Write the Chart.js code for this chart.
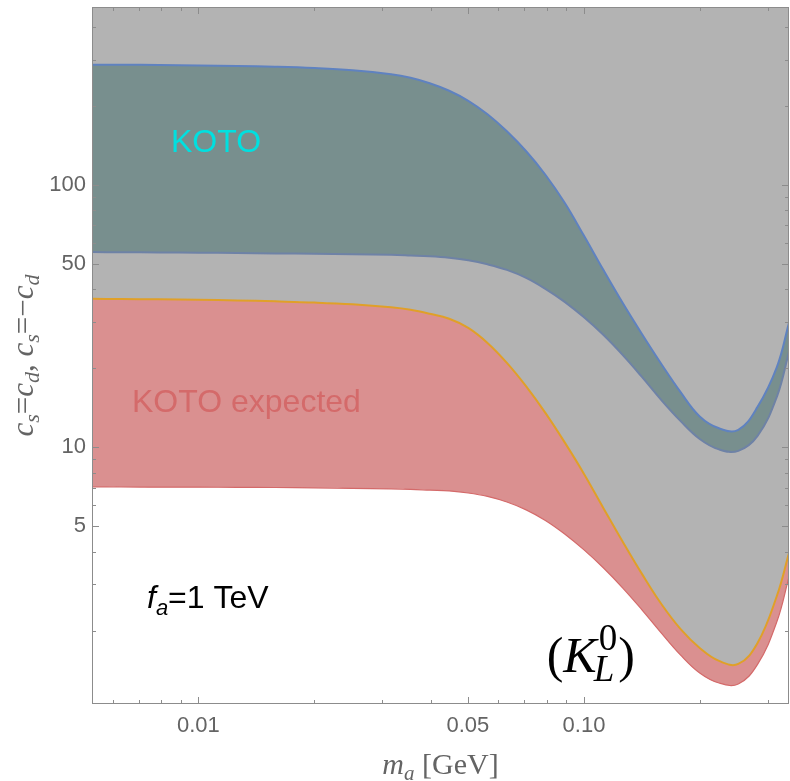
<!DOCTYPE html>
<html>
<head>
<meta charset="utf-8">
<script src="https://cdn.jsdelivr.net/npm/chart.js@4.4.1/dist/chart.umd.min.js"></script>
<style>
  html, body { margin: 0; padding: 0; background: #fff; }
  #wrap { width: 790px; height: 781px; position: relative; }
</style>
</head>
<body>
<div id="wrap"><canvas id="kotoChart"></canvas></div>
<script>
// axion mass grid [GeV]
const massGeV = [0.0053, 0.0063, 0.0079, 0.01, 0.0126, 0.0158, 0.02, 0.0251, 0.0316, 0.0355,
    0.0398, 0.0447, 0.0501, 0.0562, 0.0631, 0.0708, 0.0794, 0.0891, 0.1, 0.1122,
    0.1259, 0.1413, 0.1585, 0.1778, 0.1995, 0.2239, 0.2512, 0.2818, 0.3162, 0.34];

// KOTO band
const kotoUpper = [286.8, 286.8, 286.1, 284.8, 283.5, 281.8, 278.6, 273.3, 263.9, 255.8,
    243.8, 228.3, 209.0, 185.7, 159.9, 134.2, 109.2, 85.4, 63.9, 47.4,
    35.5, 27.0, 20.8, 16.25, 13.1, 11.8, 11.64, 14.24, 20.2, 29.8];
const kotoLower = [55.4, 55.34, 55.25, 55.1, 54.95, 54.76, 54.56, 54.32, 54.08, 53.76,
    53.38, 52.68, 51.54, 49.76, 47.41, 44.19, 40.13, 35.8, 31.26, 26.8,
    22.48, 18.53, 15.15, 12.6, 10.75, 9.81, 9.68, 11.04, 15.55, 23.08];

// KOTO expected band
const expectedUpper = [36.77, 36.7, 36.61, 36.45, 36.26, 35.96, 35.59, 35.03, 34.12, 33.39,
    32.24, 30.85, 28.49, 24.97, 20.96, 17.05, 13.51, 10.43, 7.91, 5.87,
    4.37, 3.29, 2.53, 2.03, 1.717, 1.532, 1.492, 1.794, 2.71, 3.95];
const expectedLower = [7.06, 7.05, 7.04, 7.04, 7.03, 7.02, 7.0, 6.97, 6.94, 6.91,
    6.86, 6.81, 6.69, 6.49, 6.18, 5.77, 5.26, 4.67, 4.06, 3.47,
    2.91, 2.4, 1.96, 1.615, 1.378, 1.262, 1.252, 1.486, 2.16, 3.2];

// ticks
const xMajorTicks = [0.01, 0.05, 0.1];
const xTickLabels = ['0.01', '0.05', '0.10'];
const xMinorTicks = [0.006, 0.007, 0.008, 0.009, 0.02, 0.03, 0.04, 0.06, 0.07, 0.08, 0.09, 0.2, 0.3];
const yMajorTicks = [5, 10, 50, 100];
const yTickLabels = ['5', '10', '50', '100'];
const yMinorTicks = [2, 3, 4, 6, 7, 8, 9, 20, 30, 40, 60, 70, 80, 90, 200, 300, 400];

const toPoints = arr => massGeV.map((m, i) => ({ x: m, y: arr[i] }));

const SANS = '"Liberation Sans", Arial, sans-serif';
const SERIF = '"Liberation Serif", "Times New Roman", serif';

function drawRuns(ctx, runs, x, y) {
    for (const r of runs) {
        ctx.font = r.font;
        ctx.fillText(r.text, x, y + (r.dy || 0));
        x += ctx.measureText(r.text).width;
    }
    return x;
}

function runsWidth(ctx, runs) {
    let w = 0;
    for (const r of runs) {
        ctx.font = r.font;
        w += ctx.measureText(r.text).width;
    }
    return w;
}

// frame with inward ticks on all four sides
const frameTicks = {
    id: 'frameTicks',
    afterDatasetsDraw(chart) {
        const { ctx, chartArea: a, scales: { x, y } } = chart;
        ctx.save();
        ctx.strokeStyle = '#8c8c8c';
        ctx.lineWidth = 1;
        ctx.strokeRect(a.left + 0.5, a.top + 0.5, a.right - a.left - 1, a.bottom - a.top - 1);

        const xTick = (v, len) => {
            const px = Math.round(x.getPixelForValue(v)) + 0.5;
            ctx.beginPath();
            ctx.moveTo(px, a.bottom); ctx.lineTo(px, a.bottom - len);
            ctx.moveTo(px, a.top); ctx.lineTo(px, a.top + len);
            ctx.stroke();
        };
        const yTick = (v, len) => {
            const py = Math.round(y.getPixelForValue(v)) + 0.5;
            ctx.beginPath();
            ctx.moveTo(a.left, py); ctx.lineTo(a.left + len, py);
            ctx.moveTo(a.right, py); ctx.lineTo(a.right - len, py);
            ctx.stroke();
        };
        xMajorTicks.forEach(v => xTick(v, 7));
        xMinorTicks.forEach(v => xTick(v, 4));
        yMajorTicks.forEach(v => yTick(v, 7));
        yMinorTicks.forEach(v => yTick(v, 4));
        ctx.restore();
    }
};

// axis titles and labels inside the plot
const textLayer = {
    id: 'textLayer',
    afterDraw(chart) {
        const { ctx, chartArea: a, scales: { x, y } } = chart;
        ctx.save();
        ctx.textBaseline = 'alphabetic';
        ctx.textAlign = 'left';

        // x title: m_a [GeV]
        ctx.fillStyle = '#646464';
        const xTitle = [
            { text: 'm', font: `italic 30px ${SERIF}` },
            { text: 'a', font: `italic 21px ${SERIF}`, dy: 6 },
            { text: ' [GeV]', font: `30px ${SERIF}` }
        ];
        const cx = (a.left + a.right) / 2;
        drawRuns(ctx, xTitle, cx - runsWidth(ctx, xTitle) / 2, 774);

        // y title: c_s=c_d, c_s=-c_d
        const it = `italic 31px ${SERIF}`, sub = `italic 22px ${SERIF}`, rm = `31px ${SERIF}`;
        const yTitle = [
            { text: 'c', font: it }, { text: 's', font: sub, dy: 6 },
            { text: '=', font: rm },
            { text: 'c', font: it }, { text: 'd', font: sub, dy: 6 },
            { text: ', ', font: rm },
            { text: 'c', font: it }, { text: 's', font: sub, dy: 6 },
            { text: '=\u2212', font: rm },
            { text: 'c', font: it }, { text: 'd', font: sub, dy: 6 }
        ];
        ctx.translate(33, (a.top + a.bottom) / 2);
        ctx.rotate(-Math.PI / 2);
        drawRuns(ctx, yTitle, -runsWidth(ctx, yTitle) / 2, 0);
        ctx.setTransform(1, 0, 0, 1, 0, 0);

        // KOTO
        ctx.fillStyle = '#00e0e0';
        ctx.font = `32px ${SANS}`;
        ctx.fillText('KOTO', x.getPixelForValue(0.00849), y.getPixelForValue(133.6));

        // KOTO expected
        ctx.fillStyle = '#d46a6a';
        ctx.fillText('KOTO expected', x.getPixelForValue(0.00673), y.getPixelForValue(13.6));

        // f_a = 1 TeV
        ctx.fillStyle = '#000';
        drawRuns(ctx, [
            { text: 'f', font: `italic 32px ${SANS}` },
            { text: 'a', font: `italic 22px ${SANS}`, dy: 7 },
            { text: '=1 TeV', font: `32px ${SANS}` }
        ], x.getPixelForValue(0.00736), y.getPixelForValue(2.44));

        // (K_L^0)
        let px = x.getPixelForValue(0.080);
        const py = y.getPixelForValue(1.39);
        px = drawRuns(ctx, [
            { text: '(', font: `50px ${SERIF}` },
            { text: 'K', font: `italic 50px ${SERIF}` }
        ], px, py);
        ctx.font = `37px ${SERIF}`;
        ctx.fillText('0', px + 2, py - 22);
        const w0 = ctx.measureText('0').width + 2;
        ctx.font = `italic 37px ${SERIF}`;
        ctx.fillText('L', px - 3, py + 9);
        const wL = ctx.measureText('L').width - 3;
        ctx.font = `50px ${SERIF}`;
        ctx.fillText(')', px + Math.max(w0, wL) + 1, py);

        ctx.restore();
    }
};

const ctx = document.getElementById('kotoChart').getContext('2d');
new Chart(ctx, {
    type: 'line',
    data: {
        datasets: [
            {   // excluded region above the expected upper edge
                data: toPoints(expectedUpper),
                borderWidth: 0,
                borderColor: 'transparent',
                backgroundColor: '#b3b3b3',
                fill: 'end',
                order: 6
            },
            {   // KOTO expected band
                data: toPoints(expectedLower),
                borderWidth: 1.2,
                borderColor: '#d46a6a',
                backgroundColor: '#da9090',
                fill: { target: 0 },
                order: 5
            },
            {   // KOTO lower edge
                data: toPoints(kotoLower),
                borderWidth: 2,
                borderColor: '#6e82a6',
                fill: false,
                order: 3
            },
            {   // KOTO band
                data: toPoints(kotoUpper),
                borderWidth: 2,
                borderColor: '#5f82c0',
                backgroundColor: '#788f8e',
                fill: { target: 2 },
                order: 4
            },
            {   // expected upper edge line
                data: toPoints(expectedUpper),
                borderWidth: 2,
                borderColor: '#e0a028',
                fill: false,
                order: 2
            }
        ]
    },
    options: {
        responsive: true,
        maintainAspectRatio: false,
        animation: false,
        layout: { padding: { top: 7, right: 1, left: 0, bottom: 0 } },
        elements: {
            point: { radius: 0, hoverRadius: 0 },
            line: { tension: 0.4 }
        },
        plugins: {
            legend: { display: false },
            tooltip: { enabled: false },
            title: { display: false }
        },
        scales: {
            x: {
                type: 'logarithmic',
                min: 0.0053,
                max: 0.34,
                grid: { display: false, drawTicks: false },
                border: { display: false },
                afterBuildTicks: s => { s.ticks = xMajorTicks.map(v => ({ value: v })); },
                afterFit: s => {
                    s.height = 77;
                    s.paddingLeft = 0; s.paddingRight = 0;
                },
                ticks: {
                    autoSkip: false,
                    maxRotation: 0,
                    padding: 9,
                    color: '#646464',
                    font: { family: SANS, size: 22 },
                    callback: (v, i) => xTickLabels[i]
                }
            },
            y: {
                type: 'logarithmic',
                min: 1.05,
                max: 476,
                grid: { display: false, drawTicks: false },
                border: { display: false },
                afterBuildTicks: s => { s.ticks = yMajorTicks.map(v => ({ value: v })); },
                afterFit: s => {
                    s.width = 92;
                    s.paddingTop = 0; s.paddingBottom = 0;
                },
                ticks: {
                    autoSkip: false,
                    padding: 6,
                    color: '#646464',
                    font: { family: SANS, size: 22 },
                    callback: (v, i) => yTickLabels[i]
                }
            }
        }
    },
    plugins: [frameTicks, textLayer]
});
</script>
</body>
</html>
